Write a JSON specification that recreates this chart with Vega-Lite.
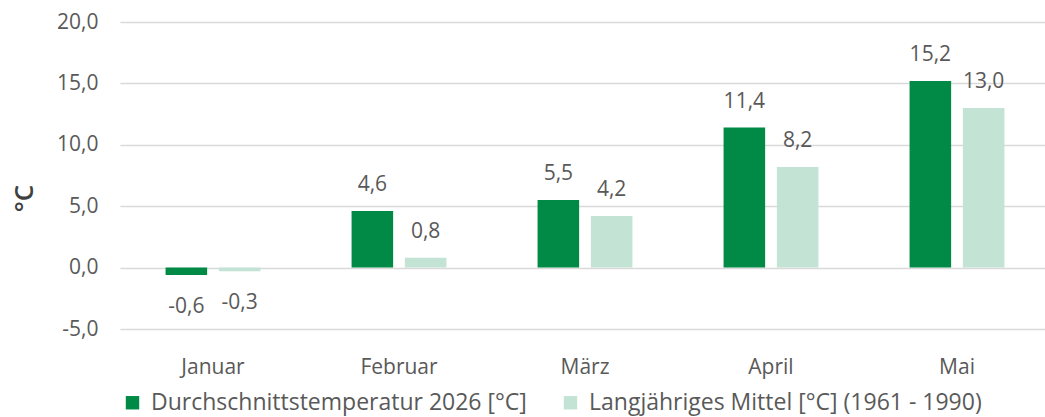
{
  "$schema": "https://vega.github.io/schema/vega-lite/v6.json",
  "width": 930,
  "height": 307,
  "autosize": {"type": "none"},
  "padding": {"left": 120, "top": 22, "right": 0, "bottom": 88},
  "background": "white",
  "config": {
    "locale": {"number": {"decimal": ",", "thousands": ".", "grouping": [3], "currency": ["", " €"], "minus": "-"}},
    "font": "Open Sans",
    "view": {"stroke": null},
    "axis": {"labelFont": "Open Sans", "labelColor": "#595959", "labelFontSize": 21}
  },
  "data": {
    "values": [
      {"monat": "Januar", "serie": "Durchschnittstemperatur 2026 [°C]", "wert": -0.6},
      {"monat": "Januar", "serie": "Langjähriges Mittel [°C] (1961 - 1990)", "wert": -0.3},
      {"monat": "Februar", "serie": "Durchschnittstemperatur 2026 [°C]", "wert": 4.6},
      {"monat": "Februar", "serie": "Langjähriges Mittel [°C] (1961 - 1990)", "wert": 0.8},
      {"monat": "März", "serie": "Durchschnittstemperatur 2026 [°C]", "wert": 5.5},
      {"monat": "März", "serie": "Langjähriges Mittel [°C] (1961 - 1990)", "wert": 4.2},
      {"monat": "April", "serie": "Durchschnittstemperatur 2026 [°C]", "wert": 11.4},
      {"monat": "April", "serie": "Langjähriges Mittel [°C] (1961 - 1990)", "wert": 8.2},
      {"monat": "Mai", "serie": "Durchschnittstemperatur 2026 [°C]", "wert": 15.2},
      {"monat": "Mai", "serie": "Langjähriges Mittel [°C] (1961 - 1990)", "wert": 13.0}
    ]
  },
  "encoding": {
    "x": {
      "field": "monat", "type": "nominal", "sort": ["Januar", "Februar", "März", "April", "Mai"],
      "scale": {"paddingInner": 0.49, "paddingOuter": 0.245},
      "axis": {"title": null, "labelAngle": 0, "ticks": false, "domain": false, "labelPadding": 27, "grid": false}
    },
    "xOffset": {
      "field": "serie", "type": "nominal",
      "scale": {"paddingInner": 0.22, "paddingOuter": 0}
    },
    "y": {
      "field": "wert", "type": "quantitative",
      "scale": {"domain": [-5, 20], "nice": false},
      "axis": {
        "values": [-5, 0, 5, 10, 15, 20], "format": ".1f", "title": "°C",
        "titleFontSize": 26, "titleColor": "#404040", "titleFont": "Open Sans", "titleFontWeight": 600,
        "titleX": -96, "titleY": 176, "titleAlign": "center", "titleBaseline": "middle",
        "ticks": false, "domain": false, "labelPadding": 22,
        "gridColor": "#d9d9d9", "gridWidth": 1.5
      }
    }
  },
  "layer": [
    {
      "mark": {"type": "bar"},
      "encoding": {
        "color": {
          "field": "serie", "type": "nominal",
          "scale": {"domain": ["Durchschnittstemperatur 2026 [°C]", "Langjähriges Mittel [°C] (1961 - 1990)"], "range": ["#008A45", "#C3E4D5"]},
          "legend": {
            "title": null, "orient": "none", "direction": "horizontal",
            "legendX": 1, "legendY": 369,
            "symbolType": "square", "symbolSize": 180, "symbolStrokeWidth": 0,
            "labelFontSize": 23, "labelColor": "#595959", "labelFont": "Open Sans",
            "labelLimit": 600, "columnPadding": 32, "labelOffset": 7
          }
        }
      }
    },
    {
      "transform": [{"filter": "datum.wert >= 0"}],
      "mark": {"type": "text", "baseline": "middle", "dy": -26, "fontSize": 21, "color": "#595959", "font": "Open Sans"},
      "encoding": {"text": {"field": "wert", "type": "quantitative", "format": ".1f"}}
    },
    {
      "transform": [{"filter": "datum.wert < 0"}],
      "mark": {"type": "text", "baseline": "middle", "dy": 32, "fontSize": 21, "color": "#595959", "font": "Open Sans"},
      "encoding": {"text": {"field": "wert", "type": "quantitative", "format": ".1f"}}
    }
  ]
}
